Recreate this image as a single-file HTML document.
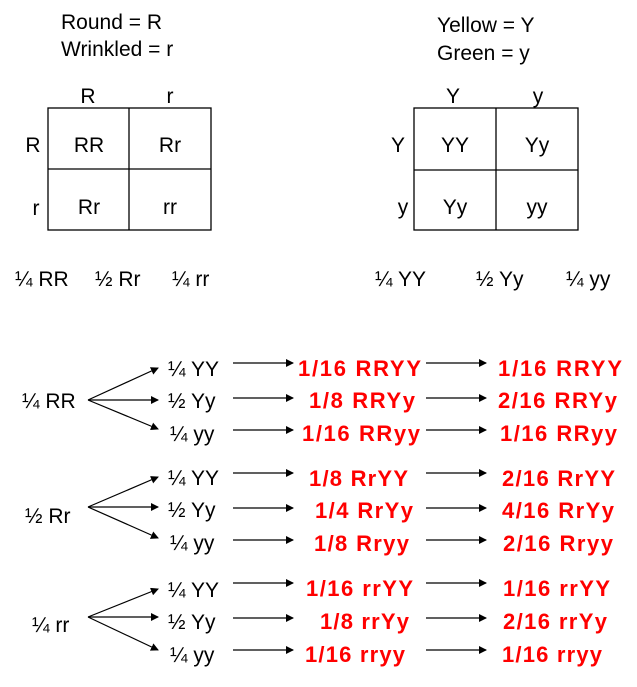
<!DOCTYPE html>
<html><head><meta charset="utf-8"><style>
html,body{margin:0;padding:0;background:#fff;}
svg{display:block;}
text{font-family:"Liberation Sans",Arial,sans-serif;}
.b{font-size:21px;fill:#000;}
.r{font-size:22px;font-weight:bold;fill:#ff0000;}
</style></head><body>
<svg width="637" height="687" viewBox="0 0 637 687" xmlns="http://www.w3.org/2000/svg">
<defs><marker id="a" markerWidth="8" markerHeight="8" refX="7" refY="4" orient="auto" markerUnits="userSpaceOnUse"><path d="M0,0 L8,4 L0,8 z" fill="#000"/></marker></defs>
<g class="b">
<text x="61" y="29" class="b">Round = R</text>
<text x="61" y="56" class="b">Wrinkled = r</text>
<text x="437" y="32" class="b">Yellow = Y</text>
<text x="437" y="60" class="b">Green = y</text>
</g>
<g fill="none" stroke="#000" stroke-width="1.3">
<rect x="48" y="108" width="163" height="122"/><line x1="129" y1="108" x2="129" y2="230"/><line x1="48" y1="169" x2="211" y2="169"/>
<rect x="414" y="108" width="164" height="122"/><line x1="496" y1="108" x2="496" y2="230"/><line x1="414" y1="170" x2="578" y2="170"/>
</g>
<g class="b" text-anchor="middle">
<text x="88" y="103" class="b">R</text><text x="170" y="103" class="b">r</text>
<text x="33" y="152" class="b">R</text><text x="36" y="215" class="b">r</text>
<text x="89" y="152" class="b">RR</text><text x="170" y="152" class="b">Rr</text>
<text x="89" y="214" class="b">Rr</text><text x="170" y="214" class="b">rr</text>
<text x="453" y="103" class="b">Y</text><text x="538" y="103" class="b">y</text>
<text x="398" y="152" class="b">Y</text><text x="403" y="214" class="b">y</text>
<text x="455" y="152" class="b">YY</text><text x="537" y="152" class="b">Yy</text>
<text x="455" y="214" class="b">Yy</text><text x="537" y="214" class="b">yy</text>
</g>
<g class="b">
<text x="15" y="286" class="b">¼ RR</text><text x="95" y="286" class="b">½ Rr</text><text x="172" y="286" class="b">¼ rr</text>
<text x="375" y="286" class="b">¼ YY</text><text x="476" y="286" class="b">½ Yy</text><text x="566" y="286" class="b">¼ yy</text>
<text x="22" y="408" class="b">¼ RR</text>
<text x="25" y="523" class="b">½ Rr</text>
<text x="32" y="632" class="b">¼ rr</text>
<text x="168" y="376" class="b">¼ YY</text><text x="168" y="408" class="b">½ Yy</text><text x="170" y="441" class="b">¼ yy</text>
<text x="168" y="485" class="b">¼ YY</text><text x="168" y="517" class="b">½ Yy</text><text x="170" y="550" class="b">¼ yy</text>
<text x="168" y="597" class="b">¼ YY</text><text x="168" y="629" class="b">½ Yy</text><text x="170" y="662" class="b">¼ yy</text>
</g>
<g stroke="#000" stroke-width="1.2" marker-end="url(#a)">
<line x1="88" y1="400" x2="158" y2="368"/><line x1="88" y1="400" x2="158" y2="400"/><line x1="88" y1="400" x2="158" y2="429"/>
<line x1="88" y1="507" x2="158" y2="477"/><line x1="88" y1="507" x2="158" y2="507"/><line x1="88" y1="507" x2="158" y2="538"/>
<line x1="88" y1="617" x2="158" y2="589"/><line x1="88" y1="617" x2="158" y2="617"/><line x1="88" y1="617" x2="158" y2="650"/>
<line x1="233" y1="363" x2="293" y2="363"/><line x1="233" y1="398" x2="293" y2="398"/><line x1="233" y1="430" x2="293" y2="430"/>
<line x1="233" y1="473" x2="293" y2="473"/><line x1="233" y1="508" x2="293" y2="508"/><line x1="233" y1="540" x2="293" y2="540"/>
<line x1="233" y1="583" x2="293" y2="583"/><line x1="233" y1="618" x2="293" y2="618"/><line x1="233" y1="650" x2="293" y2="650"/>
<line x1="426" y1="363" x2="486" y2="363"/><line x1="426" y1="398" x2="486" y2="398"/><line x1="426" y1="430" x2="486" y2="430"/>
<line x1="426" y1="473" x2="486" y2="473"/><line x1="426" y1="508" x2="486" y2="508"/><line x1="426" y1="540" x2="486" y2="540"/>
<line x1="426" y1="583" x2="486" y2="583"/><line x1="426" y1="618" x2="486" y2="618"/><line x1="426" y1="650" x2="486" y2="650"/>
</g>
<g class="r">
<text x="298" y="376" class="r" textLength="123">1/16 RRYY</text>
<text x="309" y="408" class="r" textLength="106">1/8 RRYy</text>
<text x="302" y="441" class="r" textLength="118">1/16 RRyy</text>
<text x="309" y="486" class="r" textLength="99">1/8 RrYY</text>
<text x="315" y="518" class="r" textLength="98">1/4 RrYy</text>
<text x="314" y="551" class="r" textLength="95">1/8 Rryy</text>
<text x="306" y="596" class="r" textLength="107">1/16 rrYY</text>
<text x="320" y="629" class="r" textLength="89">1/8 rrYy</text>
<text x="305" y="662" class="r" textLength="100">1/16 rryy</text>
<text x="498" y="376" class="r" textLength="124">1/16 RRYY</text>
<text x="498" y="408" class="r" textLength="119">2/16 RRYy</text>
<text x="500" y="441" class="r" textLength="117">1/16 RRyy</text>
<text x="502" y="486" class="r" textLength="113">2/16 RrYY</text>
<text x="502" y="518" class="r" textLength="112">4/16 RrYy</text>
<text x="503" y="551" class="r" textLength="110">2/16 Rryy</text>
<text x="503" y="596" class="r" textLength="107">1/16 rrYY</text>
<text x="503" y="629" class="r" textLength="104">2/16 rrYy</text>
<text x="502" y="662" class="r" textLength="100">1/16 rryy</text>
</g>
</svg>
</body></html>
